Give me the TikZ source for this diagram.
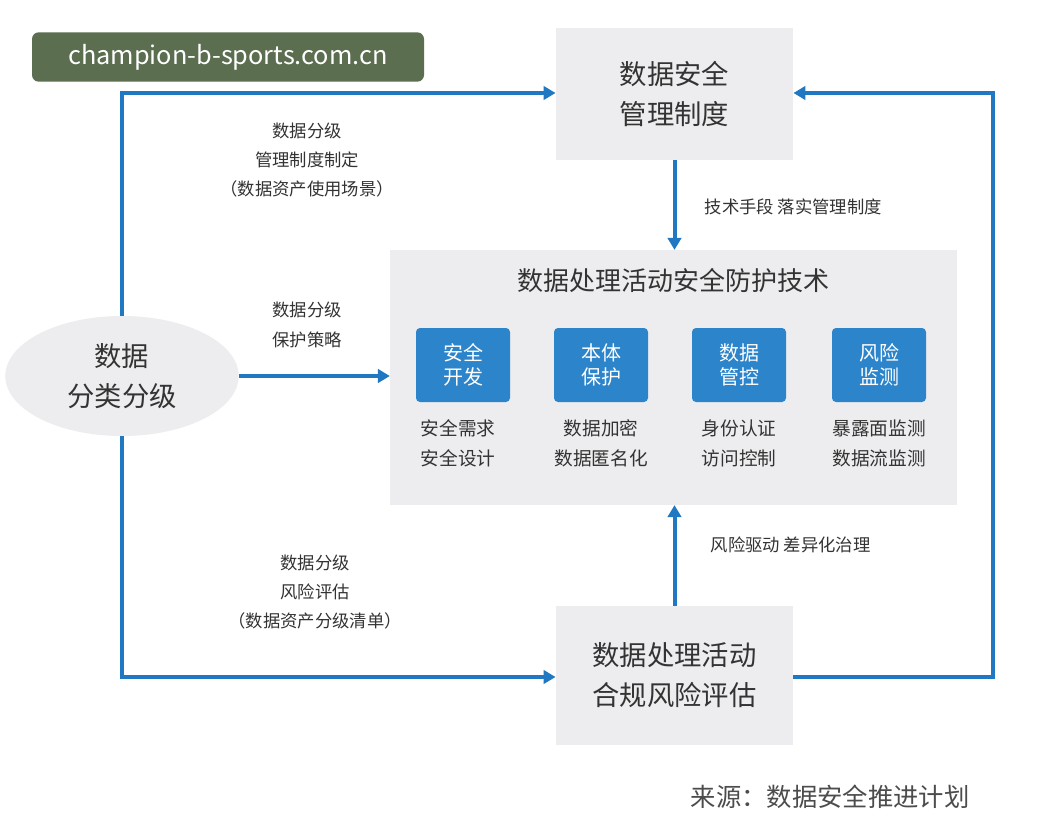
\documentclass[tikz,border=0pt]{standalone}
\usepackage{fontspec}
\setmainfont{Noto Sans CJK SC}
\usetikzlibrary{arrows.meta,shapes.geometric}
\definecolor{bl}{HTML}{1F78C1}
\definecolor{bx}{HTML}{2C84CB}
\definecolor{gr}{HTML}{EDEDEF}
\definecolor{wm}{HTML}{5B6E4F}
\definecolor{tx}{HTML}{333333}
\begin{document}
\begin{tikzpicture}[x=0.75pt,y=-0.75pt,
 gbox/.style={fill=gr,draw=none,inner sep=0},
 bbox/.style={fill=bx,draw=none,rounded corners=3pt,minimum width=70.5pt,minimum height=55.5pt,text=white,font=\fontsize{15}{18}\selectfont,align=center},
 lab/.style={text=tx,font=\fontsize{13}{22}\selectfont,align=center},
 sub/.style={text=tx,font=\fontsize{14}{22.5}\selectfont,align=center},
 big/.style={text=tx,font=\fontsize{20.5}{30}\selectfont,align=center},
 ln/.style={draw=bl,line width=3pt},
 ar/.style={ln,-{Triangle[length=9pt,width=10pt]}}]
\useasboundingbox (0,0) rectangle (1043,835);
\fill[white] (0,0) rectangle (1043,835);
\node[fill=wm,rounded corners=5pt,minimum width=294pt,minimum height=37pt,text=white,font=\fontsize{19}{22}\selectfont] (wm) at (228,57) {champion-b-sports.com.cn};
\node[gbox,minimum width=178pt,minimum height=99pt,big] (top) at (674.5,94) {数据安全\\管理制度};
\node[gbox,minimum width=425pt,minimum height=191pt] (mid) at (673.5,377.5) {};
\node[big,font=\fontsize{19.5}{24}\selectfont] (title) at (673.5,281) {数据处理活动安全防护技术};
\node[gbox,minimum width=178pt,minimum height=104pt,big] (bot) at (674.5,675.5) {数据处理活动\\合规风险评估};
\node[ellipse,fill=gr,minimum width=175pt,minimum height=90pt,big] (ell) at (122,376) {数据\\分类分级};
\node[bbox] (b1) at (463,365) {安全\\开发};
\node[bbox] (b2) at (601,365) {本体\\保护};
\node[bbox] (b3) at (739,365) {数据\\管控};
\node[bbox] (b4) at (879,365) {风险\\监测};
\node[sub] (s1) at (458,443) {安全需求\\安全设计};
\node[sub] (s2) at (601,443) {数据加密\\数据匿名化};
\node[sub] (s3) at (739,443) {身份认证\\访问控制};
\node[sub] (s4) at (879,443) {暴露面监测\\数据流监测};
\node[lab] (l1) at (307,160) {数据分级\\管理制度制定\\（数据资产使用场景）};
\node[lab] (l2) at (307,325) {数据分级\\保护策略};
\node[lab] (l3) at (315,592) {数据分级\\风险评估\\（数据资产分级清单）};
\node[lab,anchor=west] (l4) at (700,207) {技术手段 落实管理制度};
\node[lab,anchor=west] (l5) at (706,545) {风险驱动 差异化治理};
\node[text=black!70,font=\fontsize{19}{22}\selectfont] (src) at (830,797) {来源：数据安全推进计划};
\coordinate (tl) at (122,93);
\coordinate (bl) at (122,677);
\coordinate (tr) at (993,93);
\coordinate (br) at (993,677);
\draw[ar] (ell.north) -- (tl) -- (top.west|-tl);
\draw[ar] (ell.south) -- (bl) -- (bot.west|-bl);
\draw[ar] (ell.east) -- (mid.west|-ell.east);
\draw[ar] (bot.east|-br) -- (br) -- (tr) -- (top.east|-tr);
\draw[ar] (top.south) -- (top.south|-mid.north);
\draw[ar] (bot.north) -- (bot.north|-mid.south);
\end{tikzpicture}
\end{document}
